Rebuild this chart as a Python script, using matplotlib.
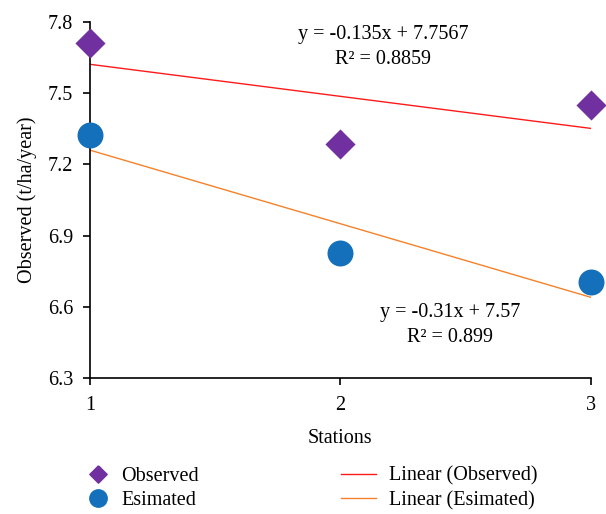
import matplotlib.pyplot as plt
import numpy as np
from matplotlib.lines import Line2D

plt.rcParams['font.family'] = ['Liberation Serif', 'DejaVu Serif']

# data
stations = [1, 2, 3]
observed = [7.71, 7.285, 7.45]
estimated = [7.325, 6.825, 6.705]
yticks = [6.3, 6.6, 6.9, 7.2, 7.5, 7.8]

# linear fits shown on the chart
obs_fit = (-0.135, 7.7567)
est_fit = (-0.31, 7.57)

purple = '#7030A0'
blue = '#1470BA'
red = '#FF1A1A'
orange = '#F5822A'
fs = 14.5

diamond = [(0, 1), (1, 0), (0, -1), (-1, 0), (0, 1)]

fig = plt.figure(figsize=(6.06, 5.14), dpi=100)
ax = fig.add_axes([0.1485, 0.2646, 0.8265, 0.6926])

xs = np.array(stations)
ax.plot(xs, obs_fit[0] * xs + obs_fit[1], color=red, lw=1.0, zorder=2)
ax.plot(xs, est_fit[0] * xs + est_fit[1], color=orange, lw=1.0, zorder=2)

ax.scatter(stations, observed, marker=diamond, s=470, color=purple, zorder=3,
           linewidths=0, clip_on=False)
ax.scatter(stations, estimated, marker='o', s=350, color=blue, zorder=3,
           linewidths=0, clip_on=False)

ax.set_xlim(1, 3)
ax.set_ylim(6.3, 7.8)
ax.set_xticks(stations)
ax.set_yticks(yticks)
ax.set_yticklabels([f'{v:.1f}' for v in yticks])
ax.tick_params(labelsize=fs, direction='out', length=5, width=1.2)
ax.tick_params(axis='x', pad=8)
ax.tick_params(axis='y', pad=7)
for s in ['top', 'right']:
    ax.spines[s].set_visible(False)
ax.spines['left'].set_linewidth(1.2)
ax.spines['bottom'].set_linewidth(1.2)

ax.set_xlabel('Stations', fontsize=fs, labelpad=10)
ax.set_ylabel('Observed (t/ha/year)', fontsize=fs, labelpad=8)

ax.text(2.17, 7.748, 'y = -0.135x + 7.7567', fontsize=fs, ha='center', va='center')
ax.text(2.17, 7.643, 'R² = 0.8859', fontsize=fs, ha='center', va='center')
ax.text(2.437, 6.575, 'y = -0.31x + 7.57', fontsize=fs, ha='center', va='center')
ax.text(2.437, 6.47, 'R² = 0.899', fontsize=fs, ha='center', va='center')

# legend: markers on the left, trend lines on the right
pt_handles = [
    Line2D([], [], marker=diamond, ls='', color=purple, markersize=12.5),
    Line2D([], [], marker='o', ls='', color=blue, markersize=12.5),
]
ln_handles = [
    Line2D([], [], color=red, lw=1.0),
    Line2D([], [], color=orange, lw=1.0),
]
fig.legend(pt_handles, ['Observed', 'Esimated'], loc='center left',
           bbox_to_anchor=(0.145, 0.05), frameon=False, fontsize=fs,
           handlelength=1.0, handletextpad=0.65, labelspacing=0.25,
           borderpad=0, borderaxespad=0)
fig.legend(ln_handles, ['Linear (Observed)', 'Linear (Esimated)'], loc='center left',
           bbox_to_anchor=(0.5627, 0.05), frameon=False, fontsize=fs,
           handlelength=1.74, handletextpad=0.65, labelspacing=0.25,
           borderpad=0, borderaxespad=0)

fig.savefig('out.png', dpi=100)
